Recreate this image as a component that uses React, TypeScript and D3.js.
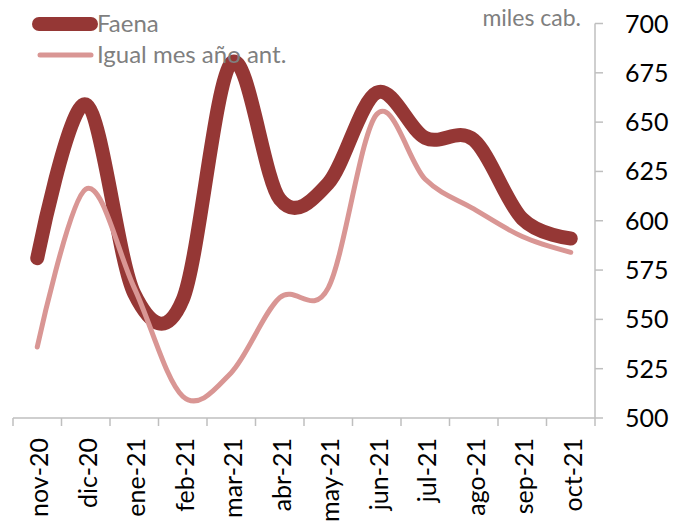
import React from "react";
import * as d3 from "d3";

const categories = ["nov-20","dic-20","ene-21","feb-21","mar-21","abr-21","may-21","jun-21","jul-21","ago-21","sep-21","oct-21"];
const faena = [581, 659, 563, 560, 680, 611, 619, 665, 642, 641, 601, 591];
const igualMes = [536, 616, 566, 511, 523, 561, 566, 654, 621, 606, 592, 584];
const yTicks = [500, 525, 550, 575, 600, 625, 650, 675, 700];
const seriesNames = ["Faena", "Igual mes año ant."];
const unitLabel = "miles cab.";

const W = 675, H = 524;
const left = 13, right = 595, top = 23.5, bottom = 418;
const DARK = "#953735", PINK = "#D99694", AXIS = "#BFBFBF", GRAY = "#7F7F7F";
const FONT = "Lato, 'Open Sans', sans-serif";

export default function App() {
  const x = d3.scaleBand<string>().domain(categories).range([left, right]);
  const y = d3.scaleLinear().domain([500, 700]).range([bottom, top]);
  const line = d3
    .line<number>()
    .x((_, i) => (x(categories[i]) as number) + x.bandwidth() / 2)
    .y((d) => y(d))
    .curve(d3.curveCardinal.tension(0));
  const boundaries = d3.range(categories.length + 1).map((i) => left + i * x.bandwidth());

  return (
    <svg width={W} height={H} style={{ position: "absolute", left: 0, top: 0, background: "#fff" }}>
      {/* axes */}
      <line x1={left} x2={right} y1={bottom} y2={bottom} stroke={AXIS} strokeWidth={1.5} />
      {boundaries.map((bx, i) => (
        <line key={"xt" + i} x1={bx} x2={bx} y1={bottom} y2={bottom + 8} stroke={AXIS} strokeWidth={1.5} />
      ))}
      <line x1={right} x2={right} y1={top} y2={bottom} stroke={AXIS} strokeWidth={1.5} />
      {yTicks.map((t) => (
        <g key={"yt" + t}>
          <line x1={right} x2={right + 8} y1={y(t)} y2={y(t)} stroke={AXIS} strokeWidth={1.5} />
          <text x={625} y={y(t)} dy="0.36em" fontFamily={FONT} fontSize={25} fill="#000">
            {t}
          </text>
        </g>
      ))}
      {categories.map((c) => {
        const cx = (x(c) as number) + x.bandwidth() / 2 + 2;
        return (
          <text
            key={c}
            transform={`translate(${cx},${438}) rotate(-90)`}
            textAnchor="end"
            dy="0.36em"
            fontFamily={FONT}
            fontSize={25}
            fill="#000"
          >
            {c}
          </text>
        );
      })}
      {/* series */}
      <path d={line(faena) || ""} fill="none" stroke={DARK} strokeWidth={14} strokeLinecap="round" strokeLinejoin="round" />
      <path d={line(igualMes) || ""} fill="none" stroke={PINK} strokeWidth={5} strokeLinecap="round" strokeLinejoin="round" />
      {/* legend */}
      <line x1={39} x2={91} y1={24} y2={24} stroke={DARK} strokeWidth={14} strokeLinecap="round" />
      <text x={97} y={32} fontFamily={FONT} fontSize={24} fill={GRAY}>{seriesNames[0]}</text>
      <line x1={40} x2={91} y1={55} y2={55} stroke={PINK} strokeWidth={5} strokeLinecap="round" />
      <text x={97} y={63} fontFamily={FONT} fontSize={24} fill={GRAY}>{seriesNames[1]}</text>
      <text x={581} y={26} textAnchor="end" fontFamily={FONT} fontSize={23} fill={GRAY}>{unitLabel}</text>
    </svg>
  );
}
